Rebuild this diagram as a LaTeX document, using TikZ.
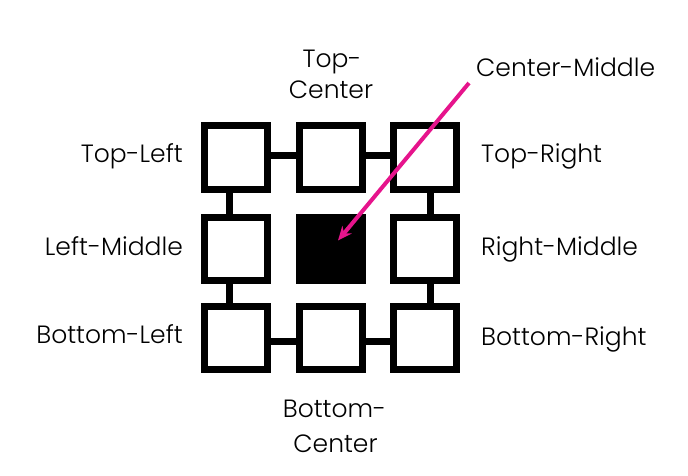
\documentclass[tikz,border=0pt]{standalone}
\usepackage{fontspec}
\setmainfont{Poppins Light}
\usetikzlibrary{arrows.meta}
\definecolor{pinkarrow}{RGB}{230,20,140}
\begin{document}
\begin{tikzpicture}[x=1pt,y=-1pt,
  cell/.style={draw=black,line width=7pt,minimum size=63pt,inner sep=0pt,fill=white},
  link/.style={draw=black,line width=7pt},
  lbl/.style={inner sep=0pt,font=\fontsize{25}{31}\selectfont},
  pointer/.style={draw=pinkarrow,line width=4pt,-{Stealth[length=14pt,width=12pt]}}]
\useasboundingbox (0,0) rectangle (688,476);
\node[cell] (tl) at (236,157.5) {};
\node[cell] (tc) at (331,157.5) {};
\node[cell] (tr) at (425,157.5) {};
\node[cell] (ml) at (236,248.5) {};
\node[cell,fill=black] (mc) at (331,248.5) {};
\node[cell] (mr) at (425,248.5) {};
\node[cell] (bl) at (236,338) {};
\node[cell] (bc) at (331,338) {};
\node[cell] (br) at (425,338) {};
\draw[link] ([yshift=2pt]tl.east) -- ([yshift=2pt]tc.west);
\draw[link] ([yshift=2pt]tc.east) -- ([yshift=2pt]tr.west);
\draw[link] ([yshift=-3pt]bl.east) -- ([yshift=-3pt]bc.west);
\draw[link] ([yshift=-3pt]bc.east) -- ([yshift=-3pt]br.west);
\draw[link] ([xshift=-6.5pt]tl.south) -- ([xshift=-6.5pt]ml.north);
\draw[link] ([xshift=-6.5pt]ml.south) -- ([xshift=-6.5pt]bl.north);
\draw[link] ([xshift=5.5pt]tr.south) -- ([xshift=5.5pt]mr.north);
\draw[link] ([xshift=5.5pt]mr.south) -- ([xshift=5.5pt]br.north);
\node[lbl,anchor=base east] (ltl) at (183,163) {Top-Left};
\node[lbl,anchor=base east] (llm) at (183,255) {Left-Middle};
\node[lbl,anchor=base east] (lbl) at (183,343) {Bottom-Left};
\node[lbl,anchor=base west] (ltr) at (481,163) {Top-Right};
\node[lbl,anchor=base west] (lrm) at (481,255) {Right-Middle};
\node[lbl,anchor=base west] (lbr) at (481,345) {Bottom-Right};
\node[lbl,anchor=base] (ltc1) at (332,68) {Top-};
\node[lbl,anchor=base] (ltc2) at (331,99) {Center};
\node[lbl,anchor=base] (lbc1) at (334.5,417) {Bottom-};
\node[lbl,anchor=base] (lbc2) at (335.5,452) {Center};
\node[lbl,anchor=base west] (lcm) at (476,77) {Center-Middle};
\coordinate (astart) at (469,83);
\draw[pointer] (astart) -- ([xshift=7pt,yshift=8pt]mc.center);
\end{tikzpicture}
\end{document}
